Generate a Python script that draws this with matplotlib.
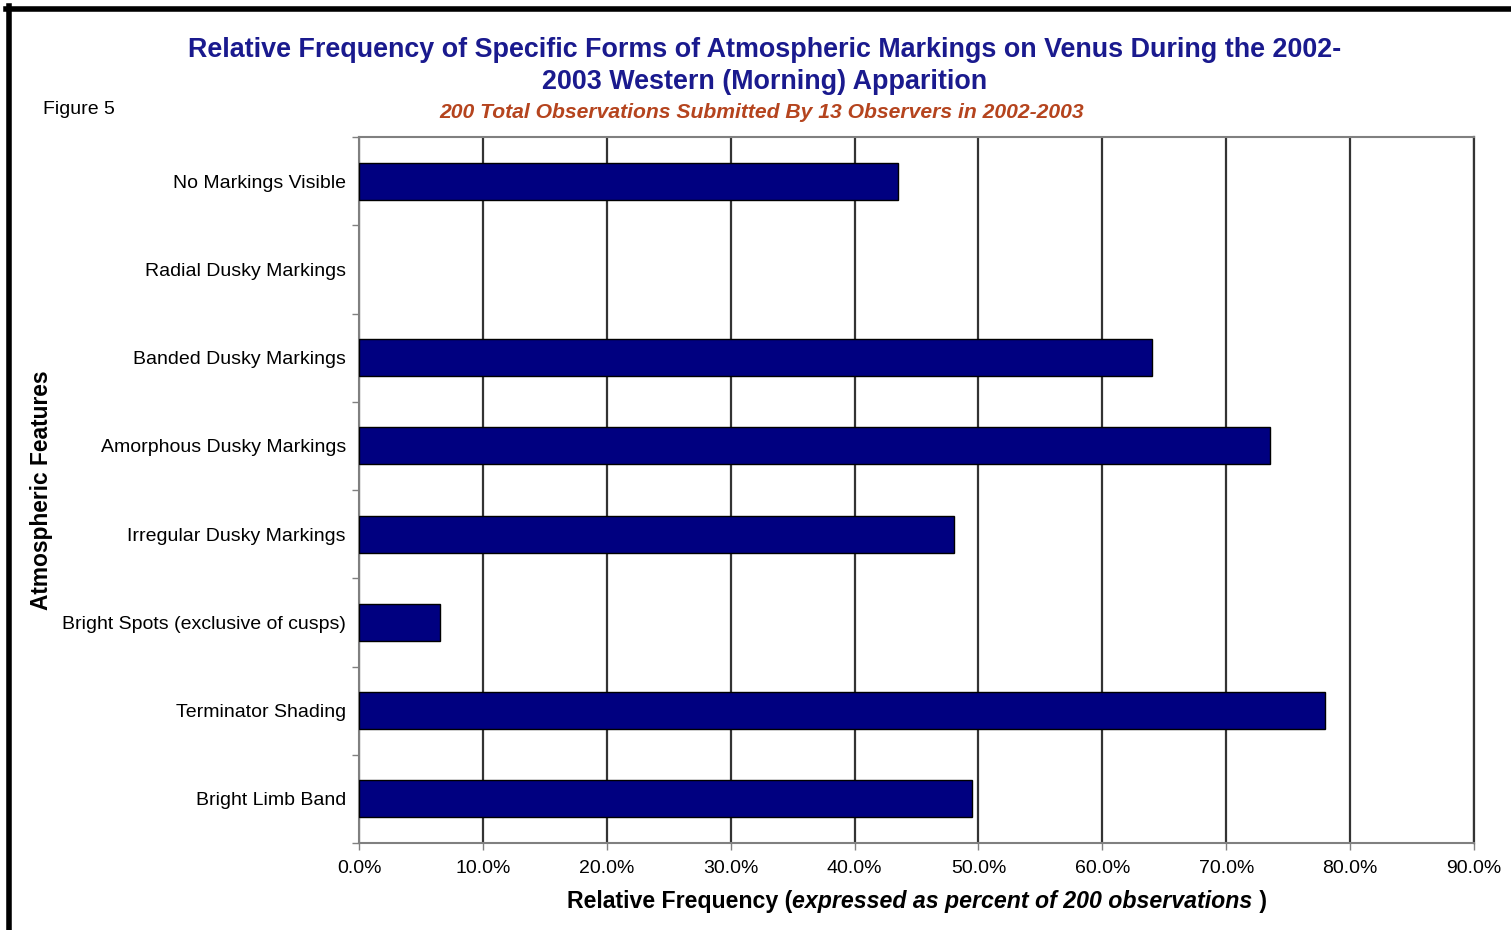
import matplotlib.pyplot as plt
import numpy as np
from matplotlib.lines import Line2D

plt.rcParams['font.family'] = ['Liberation Sans', 'DejaVu Sans']

features = ["No Markings Visible", "Radial Dusky Markings", "Banded Dusky Markings",
            "Amorphous Dusky Markings", "Irregular Dusky Markings",
            "Bright Spots (exclusive of cusps)", "Terminator Shading", "Bright Limb Band"]
percent = [43.5, 0.0, 64.0, 73.5, 48.0, 6.5, 78.0, 49.5]
xticks = np.arange(0, 91, 10)

navy = "#000080"
title_col = "#1a1a8e"
sub_col = "#b5441e"

fig = plt.figure(figsize=(15.11, 9.30), dpi=100)
ax = fig.add_axes([0.2376, 0.0935, 0.7379, 0.7592])

y = np.arange(len(features))
edge_w = [1.0 if v > 0 else 0 for v in percent]
ax.barh(y, percent, height=0.42, color=navy, edgecolor="black", linewidth=edge_w, zorder=3)

ax.set_xlim(0, 90)
ax.set_ylim(len(features) - 0.5, -0.5)
ax.set_xticks(xticks)
ax.set_xticklabels([f"{v:.1f}%" for v in xticks], fontsize=14)
ax.set_yticks(y)
ax.set_yticklabels(features, fontsize=14)
ax.set_yticks(np.arange(len(features) + 1) - 0.5, minor=True)
ax.tick_params(axis="y", which="major", length=0, pad=9.5)
ax.tick_params(axis="y", which="minor", length=5, color="#808080", width=1)
ax.tick_params(axis="x", length=5, color="#808080", width=1, pad=7)

ax.grid(axis="x", color="#333333", linewidth=1.6, zorder=1)
for s in ["left", "bottom", "top"]:
    ax.spines[s].set_color("#808080")
    ax.spines[s].set_linewidth(1.5)
ax.spines["right"].set_color("#333333")
ax.spines["right"].set_linewidth(1.6)

ax.set_ylabel("Atmospheric Features", fontsize=16.4, fontweight="bold", labelpad=6.5)

# x label: bold with a bold italic part
t1 = fig.text(0.0, 0.0, "Relative Frequency (", fontsize=16.7, fontweight="bold",
              va="center", ha="left")
t2 = ax.annotate("expressed as percent of 200 observations", xy=(1, 0), xycoords=t1,
                 va="bottom", ha="left", fontsize=16.7, fontweight="bold", style="italic")
t3 = ax.annotate(" )", xy=(1, 0), xycoords=t2, va="bottom", ha="left",
                 fontsize=16.7, fontweight="bold")
fig.canvas.draw()
r = fig.canvas.get_renderer()
w = (t1.get_window_extent(r).width + t2.get_window_extent(r).width
     + t3.get_window_extent(r).width)
cx = 917
t1.set_position(((cx - w / 2) / 1511, 1 - 901 / 930))

fig.text(0.506, 1 - 66 / 930,
         "Relative Frequency of Specific Forms of Atmospheric Markings on Venus During the 2002-\n"
         "2003 Western (Morning) Apparition",
         ha="center", va="center", fontsize=19.4, fontweight="bold", color=title_col,
         linespacing=1.3)
fig.text(0.504, 1 - 113 / 930,
         "200 Total Observations Submitted By 13 Observers in 2002-2003",
         ha="center", va="center", fontsize=15.2, fontweight="bold", style="italic",
         color=sub_col)
fig.text(43 / 1511, 1 - 110 / 930, "Figure 5", ha="left", va="center", fontsize=14)

# black frame along the top and left edge
fig.add_artist(Line2D([8.5 / 1511, 8.5 / 1511], [0, 1 - 6 / 930], color="black",
                      linewidth=4, transform=fig.transFigure))
fig.add_artist(Line2D([6 / 1511, 1], [1 - 9.5 / 930, 1 - 9.5 / 930], color="black",
                      linewidth=4, transform=fig.transFigure))

plt.savefig("out.png", dpi=100)
